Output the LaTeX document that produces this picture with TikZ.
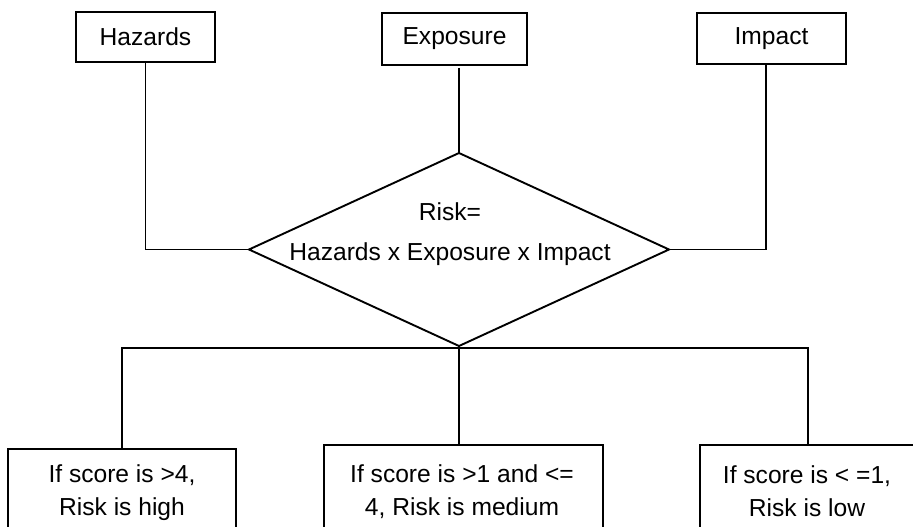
\documentclass[tikz,border=0pt]{standalone}
\usepackage{fontspec}
\setmainfont{Liberation Sans}
\usetikzlibrary{shapes.geometric}
\begin{document}
\begin{tikzpicture}[x=1pt,y=-1pt,
  every node/.style={font=\fontsize{24.6}{33}\selectfont},
  topbox/.style={draw,line width=1.9pt,rectangle,inner sep=0pt,outer sep=0pt},
  botbox/.style={draw,line width=1.9pt,rectangle,inner sep=0pt,outer sep=0pt,align=center},
  link/.style={line width=1.9pt}]
\clip (0,0) rectangle (913,527);
\fill[white] (0,0) rectangle (913,527);
% top boxes
\node[topbox,minimum width=139pt,minimum height=50pt] (haz) at (145.5,37) {Hazards};
\node[topbox,minimum width=145pt,minimum height=52pt] (exp) at (454.5,39) {Exposure};
\node[topbox,minimum width=149pt,minimum height=51pt] (imp) at (771.5,38.5) {Impact};
% diamond
\node[diamond,draw,line width=1.9pt,inner sep=0pt,outer sep=0pt,minimum width=420pt,minimum height=193pt] (dia) at (459,249.5) {};
\node[inner sep=0pt] (t1) at (450,212) {Risk=};
\node[inner sep=0pt] (t2) at (450,254) {Hazards x Exposure x Impact};
% bottom boxes
\node[botbox,minimum width=228pt,minimum height=100pt] (hi) at (122,499) {};
\node[botbox,minimum width=279pt,minimum height=104pt] (med) at (463.5,497) {};
\node[botbox,minimum width=216pt,minimum height=104pt] (lo) at (808,497) {};
\node[align=center,inner sep=0pt] (hit) at (122,493) {If score is >4,\\Risk is high};
\node[align=center,inner sep=0pt] (medt) at (462,492) {If score is >1 and <=\\4, Risk is medium};
\node[align=center,inner sep=0pt] (lot) at (807,491) {If score is < =1,\\Risk is low};
% connectors
\draw[link] (haz.south) |- (dia.west);
\draw[link,shorten <=3pt] (exp.south -| dia.north) -- (dia.north);
\draw[link] (imp.south -| 766,0) |- (dia.east);
\draw[link] (hi.north) |- ([yshift=-2pt]dia.south) -| (lo.north);
\draw[link] (dia.south) -- (med.north -| dia.south);
\end{tikzpicture}
\end{document}
